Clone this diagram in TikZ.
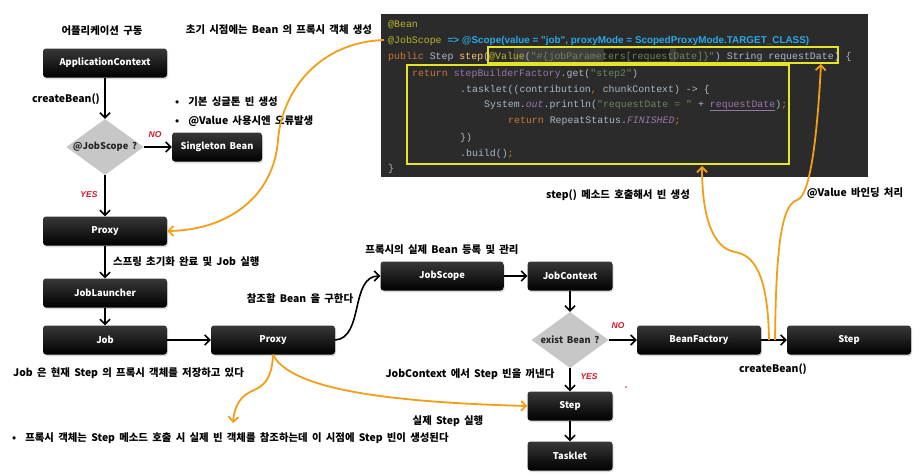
\documentclass[tikz,border=0pt]{standalone}
\usepackage{fontspec}
\setmainfont{Noto Sans CJK KR}[WordSpace=1.8]
\newfontfamily\codefont{Liberation Mono}
\newfontfamily\annofont{Liberation Sans}
\usetikzlibrary{shapes.geometric, arrows.meta, shadows}

\definecolor{sorange}{RGB}{242, 159, 24}
\definecolor{sred}{RGB}{215, 20, 40}
\definecolor{codebg}{RGB}{43, 43, 43}
\definecolor{codemark}{RGB}{62, 62, 62}
\definecolor{codegray}{RGB}{169, 183, 198}
\definecolor{codeorange}{RGB}{204, 120, 50}
\definecolor{codegreen}{RGB}{106, 135, 89}
\definecolor{codeyellow}{RGB}{255, 198, 109}
\definecolor{codepurple}{RGB}{152, 118, 170}
\definecolor{codeolive}{RGB}{187, 181, 41}
\definecolor{annoblue}{RGB}{40, 170, 230}
\definecolor{markyellow}{RGB}{228, 228, 40}

\newcommand{\notefont}{\fontsize{10.4}{12}\selectfont\bfseries}
\newcommand{\boxtxt}{\fontsize{9.3}{11}\selectfont\bfseries}

\tikzset{
  blackbox/.style={rounded corners=3pt, top color=black!78, middle color=black, bottom color=black,
    text=white, font=\boxtxt, minimum height=29pt, inner sep=0pt,
    drop shadow={opacity=0.3, shadow xshift=1pt, shadow yshift=-1.5pt}},
  decision/.style={diamond, aspect=1.4, fill=black!22, inner sep=0pt,
    minimum width=77pt, minimum height=56pt, font=\boxtxt, text=black!85},
  flow/.style={line width=1.6pt, -{Straight Barb[length=5pt, width=10pt]}},
  hint/.style={line width=1.8pt, sorange, -{Straight Barb[length=5pt, width=10pt]}},
  note/.style={font=\notefont, inner sep=0pt},
  yesno/.style={font=\annofont\fontsize{8.5}{9}\selectfont\bfseries\itshape, text=sred, inner sep=0pt},
  codeline/.style={anchor=base west, inner sep=0pt, text=codegray, font=\codefont\fontsize{9.9}{11}\selectfont}
}

\begin{document}
\begin{tikzpicture}[x=1pt, y=-1pt]
  \useasboundingbox[fill=white] (0,0) rectangle (923,475);

  % Startup column
  \node[note] (startlbl) at (102,31) {어플리케이션 구동};
  \node[blackbox, minimum width=124pt] (appctx) at (105,63) {ApplicationContext};
  \node[decision] (isjob) at (105,147) {@JobScope ?};
  \node[blackbox, minimum width=90pt] (singleton) at (217,147) {Singleton Bean};
  \node[blackbox, minimum width=124pt] (proxy) at (105,231) {Proxy};
  \node[blackbox, minimum width=124pt] (launcher) at (105,293) {JobLauncher};
  \node[blackbox, minimum width=124pt] (job) at (105,340) {Job};
  \node[blackbox, minimum width=124pt] (proxytwo) at (273,340) {Proxy};

  \draw[flow] (appctx) -- (isjob);
  \draw[flow] (isjob) -- (singleton);
  \draw[flow] (isjob) -- (proxy);
  \draw[flow] (proxy) -- (launcher);
  \draw[flow] (launcher) -- (job);
  \draw[flow] (job) -- (proxytwo);

  \node[note] (createlbl) at (66,99) {createBean()};
  \node[yesno] (nolbl) at (155,135) {NO};
  \node[yesno] (yeslbl) at (89,195) {YES};
  \node[note, anchor=west] (bulletone) at (175,102) {•\hspace{9pt}기본 싱글톤 빈 생성};
  \node[note, anchor=west] (bullettwo) at (175,121) {•\hspace{9pt}@Value 사용시엔 오류발생};
  \node[note, anchor=west] (springlbl) at (113,262) {스프링 초기화 완료 및 Job 실행};
  \node[note, anchor=west] (joblbl) at (13,373) {Job 은 현재 Step 의 프록시 객체를 저장하고 있다};
  \node[note] (reflbl) at (300,299) {참조할 Bean 을 구한다};
  \node[note, anchor=west] (bulletthree) at (12,438) {•\hspace{9pt}프록시 객체는 Step 메소드 호출 시 실제 빈 객체를 참조하는데 이 시점에 Step 빈이 생성된다};
  \node[note] (initlbl) at (279,30) {초기 시점에는 Bean 의 프록시 객체 생성};

  % Scope column
  \node[blackbox, minimum width=123pt] (jobscope) at (442,276) {JobScope};
  \node[blackbox, minimum width=85pt] (jobctx) at (570,276) {JobContext};
  \node[decision] (exists) at (570,340) {exist Bean ?};
  \node[blackbox, minimum width=124pt] (beanfac) at (699,340) {BeanFactory};
  \node[blackbox, minimum width=124pt] (stepright) at (849,340) {Step};
  \node[blackbox, minimum width=85pt] (steplow) at (570,406) {Step};
  \node[blackbox, minimum width=85pt] (tasklet) at (570,456) {Tasklet};

  \draw[flow] (proxytwo.east) .. controls (364,338) and (350,276) .. (jobscope.west);
  \draw[flow] (jobscope) -- (jobctx);
  \draw[flow] (jobctx) -- (exists);
  \draw[flow] (exists) -- (beanfac);
  \draw[flow] (exists) -- (steplow);
  \draw[flow] (steplow) -- (tasklet);
  \draw[flow] (beanfac) -- (stepright);

  \node[note] (scopelbl) at (442,250) {프록시의 실제 Bean 등록 및 관리};
  \node[note] (takelbl) at (470,374) {JobContext 에서 Step 빈을 꺼낸다};
  \node[note] (runlbl) at (448,421) {실제 Step 실행};
  \node[note] (calllbl) at (618,195) {step() 메소드 호출해서 빈 생성};
  \node[note] (bindlbl) at (855,193) {@Value 바인딩 처리};
  \node[note] (createtwo) at (773,369) {createBean()};
  \node[yesno] (notwo) at (618,326) {NO};
  \node[yesno] (yestwo) at (589,377) {YES};
  \fill[sred] (626,387) circle (0.9);

  % Code block
  \fill[codebg] (381,14) rectangle (868,177);
  \fill[codemark] (514,48) rectangle (676,62);
  \fill[black!55!codemark] (604,49) rectangle (670,61);
  \draw[markyellow, line width=1.4pt] (488,47) rectangle (838,63);
  \draw[markyellow, line width=1.4pt] (407,65) rectangle (789,164);
  \node[codeline] (cbean) at (388,27) {\textcolor{codeolive}{@Bean}};
  \node[codeline] (cscope) at (388,43) {\textcolor{codeolive}{@JobScope} \textcolor{annoblue}{\annofont\bfseries => @Scope(value = "job", proxyMode = ScopedProxyMode.TARGET\_CLASS)}};
  \node[codeline] (cstep) at (388,59) {\textcolor{codeorange}{public} Step \textcolor{codeyellow}{step}(\textcolor{codeolive}{@Value}(\textcolor{codegreen}{"\#\{jobParameters[requestDate]\}"}) String requestDate) \{};
  \node[codeline] (creturn) at (412,76) {\textcolor{codeorange}{return} \textcolor{codepurple}{stepBuilderFactory}.get(\textcolor{codegreen}{"step2"})};
  \node[codeline] (ctasklet) at (460,92) {.tasklet((contribution\textcolor{codeorange}{,} chunkContext) -> \{};
  \node[codeline] (cprint) at (484,107) {System.\textcolor{codepurple}{\itshape out}.println(\textcolor{codegreen}{"requestDate = "} + \textcolor{codepurple}{\underline{requestDate}})\textcolor{codeorange}{;}};
  \node[codeline] (cstatus) at (508,123) {\textcolor{codeorange}{return} RepeatStatus.\textcolor{codepurple}{\itshape FINISHED}\textcolor{codeorange}{;}};
  \node[codeline] (cclose) at (460,140) {\})};
  \node[codeline] (cbuild) at (460,156) {.build()\textcolor{codeorange}{;}};
  \node[codeline] (cend) at (388,171) {\}};

  % Orange hints
  \coordinate (jsmark) at (384,40);
  \coordinate (valuebox) at (821,64);
  \coordinate (bodybox) at (702,166);
  \coordinate (callfoot) at (769,340);
  \coordinate (bindfoot) at (775,340);
  \coordinate (downtip) at (233,423);
  \draw[hint] (jsmark) .. controls (320,42) and (282,90) .. (278,140)
    .. controls (274,195) and (230,230) .. (proxy.east);
  \draw[hint] (callfoot) .. controls (768,270) and (752,255) .. (735,252)
    .. controls (712,248) and (702,215) .. (bodybox);
  \draw[hint] (bindfoot) .. controls (776,250) and (781,205) .. (797,200)
    .. controls (812,196) and (818,120) .. (valuebox);
  \draw[hint] (proxytwo.south) .. controls (272,385) and (258,388) .. (250,392)
    .. controls (238,398) and (234,410) .. (downtip);
  \draw[hint] (proxytwo.south) .. controls (290,388) and (380,402) .. (steplow.west);
\end{tikzpicture}
\end{document}
